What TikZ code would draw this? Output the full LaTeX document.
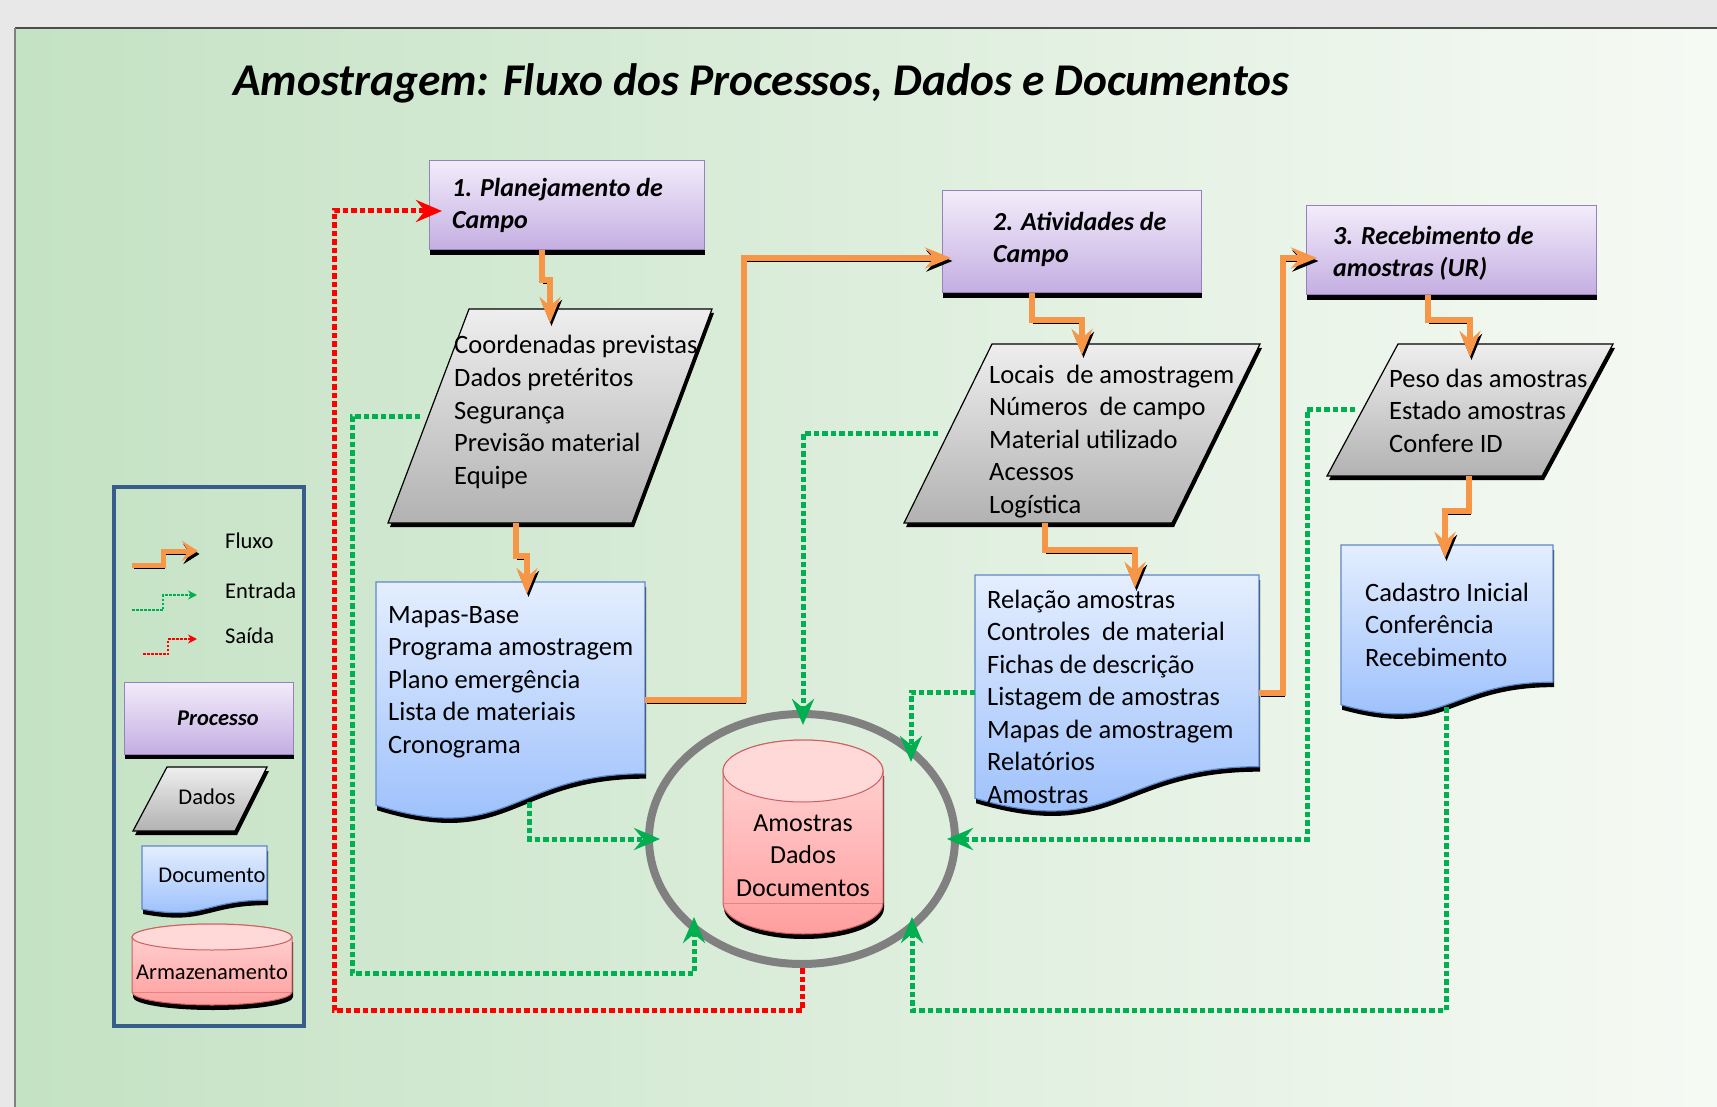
\documentclass[tikz,border=0pt]{standalone}
\usepackage{fontspec}
\setmainfont{Carlito}
\usetikzlibrary{arrows.meta}
\definecolor{bgL}{RGB}{196,226,196}
\definecolor{bgR}{RGB}{246,250,244}
\definecolor{topG}{RGB}{232,232,232}
\definecolor{orgC}{RGB}{247,150,70}
\definecolor{grnC}{RGB}{0,176,80}
\definecolor{redC}{RGB}{255,0,0}
\definecolor{ringC}{RGB}{128,128,128}
\definecolor{prT}{RGB}{242,236,250}
\definecolor{prB}{RGB}{196,174,226}
\definecolor{prD}{RGB}{150,128,190}
\definecolor{paT}{RGB}{238,238,238}
\definecolor{paB}{RGB}{178,178,178}
\definecolor{doT}{RGB}{228,238,254}
\definecolor{doB}{RGB}{150,188,252}
\definecolor{doD}{RGB}{95,135,200}
\definecolor{cyT}{RGB}{255,216,216}
\definecolor{cyB}{RGB}{255,158,158}
\definecolor{cyD}{RGB}{205,95,95}
\definecolor{lgD}{RGB}{56,93,138}
\newcommand\mypar[4]{%
  \fill[black, shift={(2,4)}] #1 -- #2 -- #3 -- #4 -- cycle;
  \shade[top color=paT, bottom color=paB, draw=black, line width=1.2pt] #1 -- #2 -- #3 -- #4 -- cycle;}
\newcommand\mydoc[4]{%
  \fill[black, shift={(1,5)}] (#1,#3) -- (#2,#3) -- (#2,{#3+0.802*#4}) .. controls ({(#1+#2)/2},{#3+0.802*#4}) and ({(#1+#2)/2},{#3+1.1075*#4}) .. (#1,{#3+0.934*#4}) -- cycle;
  \shade[top color=doT, bottom color=doB, draw=doD, line width=1.2pt] (#1,#3) -- (#2,#3) -- (#2,{#3+0.802*#4}) .. controls ({(#1+#2)/2},{#3+0.802*#4}) and ({(#1+#2)/2},{#3+1.1075*#4}) .. (#1,{#3+0.934*#4}) -- cycle;}
\newcommand\mycyl[5]{%
  \pgfmathsetmacro\cyx{(#1+#2)/2}\pgfmathsetmacro\cyr{(#2-#1)/2}%
  \fill[black, shift={(1,5)}] (#1,#3) -- (#1,#4) arc[start angle=180,end angle=0,x radius=\cyr,y radius=#5] -- (#2,#3) -- cycle;
  \shade[top color=cyT, bottom color=cyB, draw=cyD, line width=1pt] (#1,#3) -- (#1,#4) arc[start angle=180,end angle=0,x radius=\cyr,y radius=#5] -- (#2,#3) arc[start angle=0,end angle=-180,x radius=\cyr,y radius=#5] -- cycle;
  \draw[cyD, line width=0.8pt, opacity=0.5] (#1,#4) -- (#2,#4);
  \filldraw[fill=cyT, draw=cyD, line width=1pt] (\cyx,#3) ellipse[x radius=\cyr, y radius=#5];}
\begin{document}
\begin{tikzpicture}[x=1pt,y=-1pt,
  txt/.style={font=\fontsize{26.5}{32.5}\selectfont, align=left, inner sep=0pt, anchor=north west},
  ttl/.style={font=\fontsize{26}{32}\selectfont\bfseries\itshape, align=left, inner sep=0pt, anchor=north west},
  lgt/.style={font=\fontsize{22.5}{27}\selectfont, inner sep=0pt, anchor=base west},
  proc/.style={rectangle, draw=prD, line width=1pt, top color=prT, bottom color=prB, inner sep=0pt},
  flow/.style={draw=orgC, line width=5.5pt, -{Stealth[length=26pt,width=21pt,inset=9pt]}, preaction={draw=black, transform canvas={shift={(1.5,3)}}}},
  ent/.style={draw=grnC, line width=5pt, dash pattern=on 5.5pt off 3pt, -{Stealth[length=26pt,width=22pt,inset=9pt]}},
  sai/.style={ent, draw=redC}]
\useasboundingbox (0,0) rectangle (1717,1107);
% background
\fill[topG] (0,0) rectangle (1717,1107);
\shade[left color=bgL, right color=bgR] (15,28) rectangle (1717,1107);
\draw[black!70, line width=2pt] (15,28) -- (1717,28);
\draw[black!50, line width=1.5pt] (15,28) -- (15,1107);
% title
\node[font=\fontsize{45.4}{50}\selectfont\bfseries\itshape, anchor=base west, inner sep=0pt] (title) at (233,96) {Amostragem: Fluxo dos Processos, Dados e Documentos};
% ring and storage
\draw[ringC, line width=8pt] (802,839) ellipse [x radius=153, y radius=125];
\mycyl{723}{883}{771}{903}{31}
\node[txt, font=\fontsize{26}{32.5}\selectfont, align=center, anchor=north] (cylt) at (803,808.25) {\strut Amostras\\Dados\\Documentos};
% process boxes
\fill[black] (430,166) rectangle (705,255);
\node[proc, minimum width=275pt, minimum height=89pt] (b1) at (566.5,205.5) {};
\node[ttl] (b1t) at (452,173.6) {\strut 1. Planejamento de\\Campo};
\fill[black] (943,196) rectangle (1202,298);
\node[proc, minimum width=259pt, minimum height=102pt] (b2) at (1071.5,242) {};
\node[ttl] (b2t) at (993,207.6) {\strut 2. Atividades de\\Campo};
\fill[black] (1307,211) rectangle (1597,300);
\node[proc, minimum width=290pt, minimum height=89pt] (b3) at (1451,250.5) {};
\node[ttl] (b3t) at (1333,221.6) {\strut 3. Recebimento de\\amostras (UR)};
% data
\mypar{(469,309)}{(712,309)}{(632,523)}{(388,523)}
\node[txt, font=\fontsize{26.5}{32.9}\selectfont] (p1t) at (454,330) {\strut Coordenadas previstas\\Dados pretéritos\\Segurança\\Previsão material\\Equipe};
\mypar{(992,344)}{(1260,344)}{(1172,523)}{(904,523)}
\node[txt] (p2t) at (989,360.25) {\strut Locais\ \ de amostragem\\Números\ \ de campo\\Material utilizado\\Acessos\\Logística};
\mypar{(1398,344)}{(1613,344)}{(1542,476)}{(1327,476)}
\node[txt] (p3t) at (1389,364.25) {\strut Peso das amostras\\Estado amostras\\Confere ID};
% documents
\mydoc{376}{645}{582}{239}
\node[txt] (d1t) at (388,600.25) {\strut Mapas-Base\\Programa amostragem\\Plano emergência\\Lista de materiais\\Cronograma};
\mydoc{975}{1259}{575}{239}
\node[txt] (d2t) at (987,585.25) {\strut Relação amostras\\Controles\ \ de material\\Fichas de descrição\\Listagem de amostras\\Mapas de amostragem\\Relatórios\\Amostras};
\mydoc{1341}{1553}{545}{171}
\node[txt] (d3t) at (1365,578.25) {\strut Cadastro Inicial\\Conferência\\Recebimento};
% ports
\coordinate (b1S) at (542,250); \coordinate (p1N) at (550,323);
\coordinate (p1S) at (516,523); \coordinate (d1N) at (527,594);
\coordinate (d1E) at (645,700); \coordinate (b2W) at (951,258);
\coordinate (b2S) at (1032,293); \coordinate (p2N) at (1082,355);
\coordinate (p2S) at (1045,523); \coordinate (d2N) at (1135,588);
\coordinate (d2E) at (1259,693); \coordinate (b3W) at (1317,258);
\coordinate (b3S) at (1428,295); \coordinate (p3N) at (1470,357);
\coordinate (p3S) at (1469,476); \coordinate (d3N) at (1445,558);
\coordinate (p1W) at (420,416); \coordinate (rgSW) at (694,917);
\coordinate (d1S) at (529,802); \coordinate (rgW) at (660,839);
\coordinate (p2W) at (938,433); \coordinate (rgN) at (803,725);
\coordinate (d2W) at (975,692); \coordinate (rgNE) at (911,762);
\coordinate (p3W) at (1355,409); \coordinate (rgE) at (947,839);
\coordinate (d3S) at (1446,707); \coordinate (rgSE) at (912,917);
\coordinate (rgS) at (802,968); \coordinate (b1W) at (442,211);
% flow
\draw[flow] (b1S) -- (542,280) -- (550,280) -- (p1N);
\draw[flow] (p1S) -- (516,556) -- (527,556) -- (d1N);
\draw[flow] (d1E) -- (744,700) -- (744,258) -- (b2W);
\draw[flow] (b2S) -- (1032,320) -- (1082,320) -- (p2N);
\draw[flow] (p2S) -- (1045,550) -- (1135,550) -- (d2N);
\draw[flow] (d2E) -- (1283,693) -- (1283,258) -- (b3W);
\draw[flow] (b3S) -- (1428,320) -- (1470,320) -- (p3N);
\draw[flow] (p3S) -- (1469,511) -- (1445,511) -- (d3N);
% inputs
\draw[ent] (p1W) -- (352,416) -- (352,973) -- (694,973) -- (rgSW);
\draw[ent] (d1S) -- (529,839) -- (rgW);
\draw[ent] (p2W) -- (803,433) -- (rgN);
\draw[ent] (d2W) -- (911,692) -- (rgNE);
\draw[ent] (p3W) -- (1307,409) -- (1307,839) -- (rgE);
\draw[ent] (d3S) -- (1446,1010) -- (912,1010) -- (rgSE);
% output
\draw[sai] (rgS) -- (802,1010) -- (334,1010) -- (334,211) -- (b1W);
% legend
\draw[lgD, line width=4pt] (114,487) rectangle (304,1026);
\coordinate (lfA) at (132,565); \coordinate (lfB) at (198,551);
\draw[flow, line width=5pt, -{Stealth[length=16pt,width=20pt,inset=6pt]}] (lfA) -- (163,565) -- (163,551) -- (lfB);
\node[lgt] (lfT) at (225,548) {Fluxo};
\coordinate (leA) at (132,610); \coordinate (leB) at (197,595);
\draw[grnC, line width=2.5pt, dash pattern=on 2.5pt off 1.5pt, -{Stealth[length=9pt,width=9pt]}] (leA) -- (163,610) -- (163,595) -- (leB);
\node[lgt] (leT) at (225,598) {Entrada};
\coordinate (lsA) at (143,654); \coordinate (lsB) at (197,639);
\draw[redC, line width=2.5pt, dash pattern=on 2.5pt off 1.5pt, -{Stealth[length=9pt,width=9pt]}] (lsA) -- (168,654) -- (168,639) -- (lsB);
\node[lgt] (lsT) at (225,643) {Saída};
\fill[black] (125,687) rectangle (294,759);
\node[proc, minimum width=169pt, minimum height=72pt] (lgP) at (208.5,718) {};
\node[font=\fontsize{22.5}{27}\selectfont\bfseries\itshape, inner sep=0pt, anchor=base] (lgPt) at (218,725) {Processo};
\mypar{(167,767)}{(267,767)}{(235,831)}{(133,831)}
\node[font=\fontsize{22.5}{27}\selectfont, inner sep=0pt, anchor=base] (lgDt) at (207,804) {Dados};
\mydoc{142}{267}{846}{67.5}
\node[font=\fontsize{22.5}{27}\selectfont, inner sep=0pt, anchor=base] (lgDoc) at (212,882) {Documento};
\mycyl{132}{292}{937}{992}{13}
\node[font=\fontsize{22.5}{27}\selectfont, inner sep=0pt, anchor=base] (lgCy) at (212,979) {Armazenamento};
\end{tikzpicture}
\end{document}
